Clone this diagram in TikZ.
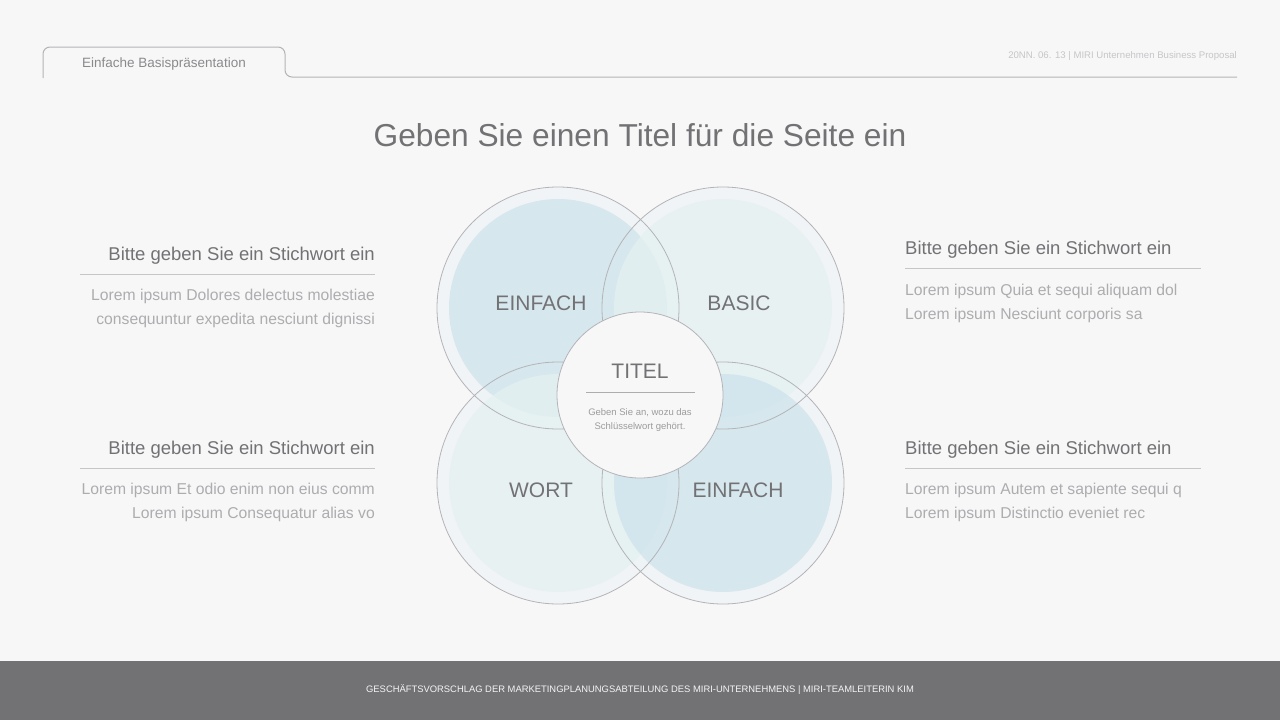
\documentclass[tikz,border=0pt]{standalone}
\usepackage{fontspec}
\setmainfont{Liberation Sans}
\usetikzlibrary{positioning}
\definecolor{pagebg}{HTML}{F7F7F8}
\definecolor{footgray}{HTML}{727174}
\definecolor{ringgray}{HTML}{B4B4B8}
\definecolor{textgray}{HTML}{727275}
\definecolor{softgray}{HTML}{ADADB0}
\definecolor{palegray}{HTML}{C6C6C8}
\definecolor{blueset}{HTML}{CFE3EC}
\definecolor{mintset}{HTML}{E4F1F1}
\definecolor{ringfill}{HTML}{EDF3F5}
\tikzset{
    heading/.style={font=\fontsize{18.5}{20}\selectfont, text=textgray, inner sep=0pt},
    bodytext/.style={font=\fontsize{15.7}{24}\selectfont, text=softgray, inner sep=0pt},
    rule/.style={draw=palegray, line width=0.9pt},
    venn/.style={circle, minimum size=242pt, inner sep=0pt},
    vennlabel/.style={font=\fontsize{21}{24}\selectfont, text=textgray, inner sep=0pt},
    hub/.style={circle, draw=ringgray, line width=0.8pt, fill=pagebg, minimum size=166pt, inner sep=0pt}
}

\begin{document}
\begin{tikzpicture}[x=1pt, y=-1pt]
    % Page and footer
    \fill [pagebg] (0,0) rectangle (1280,720);
    \useasboundingbox (0,0) rectangle (1280,720);
    \fill [footgray] (0,661) rectangle (1280,720);
    \node [font=\fontsize{9.4}{11}\selectfont, text=white!92!footgray] (footer) at (640,690)
        {GESCHÄFTSVORSCHLAG DER MARKETINGPLANUNGSABTEILUNG DES MIRI-UNTERNEHMENS | MIRI-TEAMLEITERIN KIM};

    % Header tab
    \draw [draw=ringgray, line width=1pt, rounded corners=7pt]
        (43,78) -- (43,47) -- (285,47) -- (285,77) -- (1237,77);
    \node [font=\fontsize{13.5}{15}\selectfont, text=softgray!80!black] (tab) at (164,64) {Einfache Basispräsentation};
    \node [font=\fontsize{9.6}{11}\selectfont, text=palegray, anchor=east, inner sep=0pt] (date) at (1237,56)
        {20NN. 06. 13 | MIRI Unternehmen Business Proposal};

    % Title
    \node [font=\fontsize{31.7}{34}\selectfont, text=textgray] (title) at (640,135) {Geben Sie einen Titel für die Seite ein};

    % Venn circles
    \node [venn] (tl) at (558,308) {};
    \node [venn] (tr) at (723,308) {};
    \node [venn] (bl) at (558,483) {};
    \node [venn] (br) at (723,483) {};
    \foreach \c in {tl,tr,bl,br}
        \fill [ringfill, fill opacity=0.6] (\c) circle [radius=121pt];
    \fill [blueset, fill opacity=0.75] (tl) circle [radius=109pt];
    \fill [mintset, fill opacity=0.75] (tr) circle [radius=109pt];
    \fill [mintset, fill opacity=0.75] (bl) circle [radius=109pt];
    \fill [blueset, fill opacity=0.75] (br) circle [radius=109pt];
    \foreach \c in {tl,tr,bl,br}
        \draw [ringgray, line width=0.8pt] (\c) circle [radius=121pt];

    \node [vennlabel] (tllabel) at (541,303) {EINFACH};
    \node [vennlabel] (trlabel) at (739,303) {BASIC};
    \node [vennlabel] (bllabel) at (541,490) {WORT};
    \node [vennlabel] (brlabel) at (738,490) {EINFACH};

    % Centre
    \node [hub] (hub) at (640,395) {};
    \node [vennlabel] (hubtitle) at (640,371) {TITEL};
    \draw [draw=softgray, line width=0.8pt] (586,392) -- (695,392);
    \node [font=\fontsize{9.5}{14}\selectfont, text=softgray!90!black, align=center, inner sep=0pt] (hubtext) at (640,420)
        {Geben Sie an, wozu das\\Schlüsselwort gehört.};

    % Left keywords
    \node [heading, anchor=east] (lthead) at (375,256) {Bitte geben Sie ein Stichwort ein};
    \draw [rule] (80,274) -- (375,274);
    \node [bodytext, anchor=east, align=right] (ltbody) at (375,308)
        {Lorem ipsum Dolores delectus molestiae\\consequuntur expedita nesciunt dignissi};
    \node [heading, anchor=east] (lbhead) at (375,450) {Bitte geben Sie ein Stichwort ein};
    \draw [rule] (80,468) -- (375,468);
    \node [bodytext, anchor=east, align=right] (lbbody) at (375,502)
        {Lorem ipsum Et odio enim non eius comm\\Lorem ipsum Consequatur alias vo};

    % Right keywords
    \node [heading, anchor=west] (rthead) at (905,250) {Bitte geben Sie ein Stichwort ein};
    \draw [rule] (905,268) -- (1201,268);
    \node [bodytext, anchor=west, align=left] (rtbody) at (905,303)
        {Lorem ipsum Quia et sequi aliquam dol\\Lorem ipsum Nesciunt corporis sa};
    \node [heading, anchor=west] (rbhead) at (905,450) {Bitte geben Sie ein Stichwort ein};
    \draw [rule] (905,468) -- (1201,468);
    \node [bodytext, anchor=west, align=left] (rbbody) at (905,502)
        {Lorem ipsum Autem et sapiente sequi q\\Lorem ipsum Distinctio eveniet rec};
\end{tikzpicture}
\end{document}
